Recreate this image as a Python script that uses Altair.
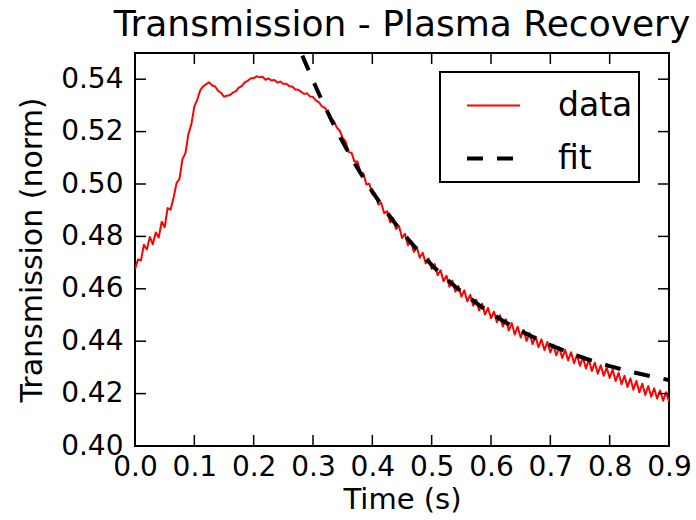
import altair as alt
import pandas as pd

# ---------------- data ----------------
time_start = 0.0
time_step = 0.005
data_values = [
    0.4675, 0.4712, 0.4708, 0.4768, 0.4750, 0.4798, 0.4770, 0.4815, 0.4796, 0.4856,
    0.4835, 0.4908, 0.4902, 0.4948, 0.5003, 0.5020, 0.5095, 0.5118, 0.5190, 0.5228,
    0.5296, 0.5322, 0.5358, 0.5373, 0.5381, 0.5388, 0.5376, 0.5372, 0.5356, 0.5348,
    0.5333, 0.5337, 0.5339, 0.5349, 0.5354, 0.5368, 0.5374, 0.5388, 0.5394, 0.5403,
    0.5404, 0.5411, 0.5407, 0.5409, 0.5398, 0.5403, 0.5395, 0.5397, 0.5387, 0.5391,
    0.5382, 0.5383, 0.5373, 0.5372, 0.5361, 0.5360, 0.5352, 0.5344, 0.5346, 0.5334,
    0.5332, 0.5318, 0.5312, 0.5296, 0.5291, 0.5275, 0.5252, 0.5241, 0.5216, 0.5204,
    0.5176, 0.5162, 0.5122, 0.5119, 0.5085, 0.5086, 0.5045, 0.5040, 0.4998, 0.5001,
    0.4960, 0.4961, 0.4922, 0.4928, 0.4888, 0.4896, 0.4853, 0.4870, 0.4828, 0.4840,
    0.4794, 0.4810, 0.4766, 0.4783, 0.4741, 0.4758, 0.4719, 0.4737, 0.4697, 0.4715,
    0.4676, 0.4694, 0.4652, 0.4671, 0.4629, 0.4650, 0.4608, 0.4631, 0.4589, 0.4611,
    0.4570, 0.4594, 0.4552, 0.4577, 0.4535, 0.4559, 0.4517, 0.4543, 0.4502, 0.4527,
    0.4488, 0.4513, 0.4472, 0.4499, 0.4456, 0.4484, 0.4441, 0.4469, 0.4426, 0.4455,
    0.4414, 0.4443, 0.4401, 0.4431, 0.4389, 0.4418, 0.4377, 0.4407, 0.4366, 0.4397,
    0.4357, 0.4387, 0.4346, 0.4377, 0.4336, 0.4367, 0.4326, 0.4358, 0.4316, 0.4348,
    0.4306, 0.4338, 0.4296, 0.4328, 0.4286, 0.4318, 0.4276, 0.4308, 0.4268, 0.4300,
    0.4260, 0.4292, 0.4248, 0.4279, 0.4236, 0.4268, 0.4225, 0.4258, 0.4215, 0.4248,
    0.4205, 0.4238, 0.4195, 0.4229, 0.4188, 0.4220, 0.4181, 0.4212, 0.4173, 0.4205,
    0.4170,
]

fit_times = [0.282, 0.29, 0.30, 0.31, 0.32, 0.33, 0.34, 0.35, 0.36, 0.37, 0.38, 0.39,
             0.40, 0.42, 0.44, 0.46, 0.48, 0.50, 0.52, 0.54, 0.56, 0.58, 0.60, 0.62,
             0.64, 0.66, 0.68, 0.70, 0.72, 0.74, 0.76, 0.78, 0.80, 0.82, 0.84, 0.86,
             0.88, 0.90]
fit_values = [0.5490, 0.5448, 0.5395, 0.5344, 0.5296, 0.5249, 0.5204, 0.5161, 0.5120,
              0.5080, 0.5042, 0.5006, 0.4971, 0.4905, 0.4845, 0.4790, 0.4738, 0.4691,
              0.4648, 0.4608, 0.4572, 0.4538, 0.4507, 0.4478, 0.4452, 0.4428, 0.4406,
              0.4385, 0.4367, 0.4349, 0.4333, 0.4319, 0.4305, 0.4293, 0.4281, 0.4271,
              0.4261, 0.4252]

series_names = ["data", "fit"]
x_ticks = [0.0, 0.1, 0.2, 0.3, 0.4, 0.5, 0.6, 0.7, 0.8, 0.9]
y_ticks = [0.40, 0.42, 0.44, 0.46, 0.48, 0.50, 0.52, 0.54]

# ---------------- tables ----------------
rows = []
for i, v in enumerate(data_values):
    rows.append({"t": round(time_start + i * time_step, 4), "v": v, "series": "data", "i": i})
for j, (t, v) in enumerate(zip(fit_times, fit_values)):
    rows.append({"t": t, "v": v, "series": "fit", "i": j})
df = pd.DataFrame(rows)
xt = pd.DataFrame({"t": x_ticks})
yt = pd.DataFrame({"v": y_ticks})

W, H = 534, 393
FONT = "DejaVu Sans"
xscale = alt.Scale(domain=[0.0, 0.9], nice=False, zero=False)
yscale = alt.Scale(domain=[0.40, 0.55], nice=False, zero=False)

x_axis = alt.Axis(values=x_ticks, format=".1f", title="Time (s)",
                  labelPadding=7, labelFlush=False, labelOverlap=False,
                  titleY=62, titleBaseline="alphabetic")
y_axis = alt.Axis(values=y_ticks, format=".2f", title="Transmission (norm)",
                  labelPadding=12, labelOverlap=False,
                  titleX=-94, titleY=H / 2, titleAngle=-90, titleFontSize=30,
                  titleAlign="center", titleBaseline="alphabetic")

X = alt.X("t:Q", scale=xscale, axis=x_axis)
Y = alt.Y("v:Q", scale=yscale, axis=y_axis)

leg = alt.Legend(title=None, labelExpr="datum.label + '\u2003\u2002'")

lines = alt.Chart(df).mark_line(clip=True, strokeJoin="round").encode(
    x=X,
    y=Y,
    color=alt.Color("series:N",
                    scale=alt.Scale(domain=series_names, range=["#ff0000", "#000000"]),
                    legend=leg),
    strokeDash=alt.StrokeDash("series:N",
                              scale=alt.Scale(domain=series_names, range=[[1, 0], [16, 14]]),
                              legend=leg),
    strokeWidth=alt.StrokeWidth("series:N",
                                scale=alt.Scale(domain=series_names, range=[2.0, 4.0]),
                                legend=leg),
    order="i:Q",
)

tick_style = dict(color="black", strokeWidth=1.5)
bottom_ticks = alt.Chart(xt).mark_rule(**tick_style).encode(
    x=X, y=alt.value(H), y2=alt.value(H - 11))
top_ticks = alt.Chart(xt).mark_rule(**tick_style).encode(
    x=X, y=alt.value(0), y2=alt.value(11))
left_ticks = alt.Chart(yt).mark_rule(**tick_style).encode(
    y=Y, x=alt.value(0), x2=alt.value(11))
right_ticks = alt.Chart(yt).mark_rule(**tick_style).encode(
    y=Y, x=alt.value(W), x2=alt.value(W - 11))

chart = alt.layer(lines, bottom_ticks, top_ticks, left_ticks, right_ticks).properties(
    width=W, height=H,
    title=alt.TitleParams("Transmission - Plasma Recovery", fontSize=36, font=FONT,
                          fontWeight="normal", anchor="middle", baseline="alphabetic",
                          frame="group", offset=14, dy=34, color="black"),
    autosize=alt.AutoSizeParams(type="none"),
    padding={"left": 135, "top": 53, "right": 27, "bottom": 74},
    background="white",
).configure_view(
    stroke="black", strokeWidth=2
).configure_axis(
    domain=False, ticks=False, grid=False,
    labelFont=FONT, labelFontSize=28, labelColor="black",
    titleFont=FONT, titleFontSize=29, titleFontWeight="normal", titleColor="black",
).configure_legend(
    orient="none", legendX=305, legendY=19,
    strokeColor="black", strokeWidth=2, fillColor="white", padding=6,
    symbolType="stroke", symbolSize=2809, symbolOffset=19,
    labelFont=FONT, labelFontSize=33, labelColor="black", labelOffset=36,
    rowPadding=7,
)

chart.save("out.html", embed_options={"renderer": "svg", "actions": False})
